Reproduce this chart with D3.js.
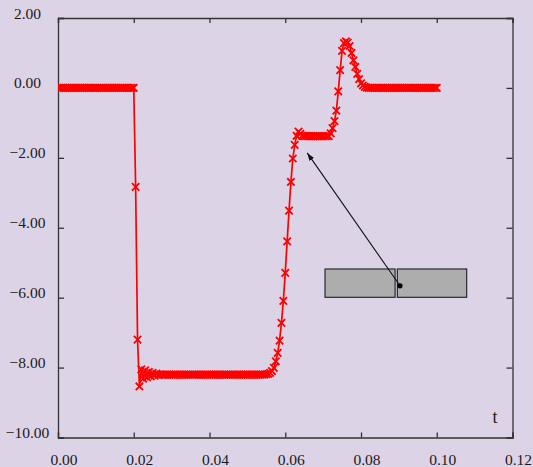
<!DOCTYPE html>
<html>
<head>
<meta charset="utf-8">
<script src="https://cdn.jsdelivr.net/npm/d3@7"></script>
<style>
  html, body { margin: 0; padding: 0; background: #ddd3e7; }
  svg { display: block; }
  text { font-family: "Liberation Serif", "DejaVu Serif", serif; font-size: 15.5px; fill: #1a1a1a; }
</style>
</head>
<body>
<svg id="chart" width="533" height="467"></svg>
<script>
// ---- data ----
const t = [
  0,0.0005,0.001,0.0015,0.002,0.0025,0.003,0.0035,0.004,0.0045,
  0.005,0.0055,0.006,0.0065,0.007,0.0075,0.008,0.0085,0.009,0.0095,
  0.01,0.0105,0.011,0.0115,0.012,0.0125,0.013,0.0135,0.014,0.0145,
  0.015,0.0155,0.016,0.0165,0.017,0.0175,0.018,0.0185,0.019,0.0195,
  0.02,0.0205,0.021,0.0215,0.022,0.0225,0.023,0.0235,0.024,0.0245,
  0.025,0.0255,0.026,0.0265,0.027,0.0275,0.028,0.0285,0.029,0.0295,
  0.03,0.0305,0.031,0.0315,0.032,0.0325,0.033,0.0335,0.034,0.0345,
  0.035,0.0355,0.036,0.0365,0.037,0.0375,0.038,0.0385,0.039,0.0395,
  0.04,0.0405,0.041,0.0415,0.042,0.0425,0.043,0.0435,0.044,0.0445,
  0.045,0.0455,0.046,0.0465,0.047,0.0475,0.048,0.0485,0.049,0.0495,
  0.05,0.0505,0.051,0.0515,0.052,0.0525,0.053,0.0535,0.054,0.0545,
  0.055,0.0555,0.056,0.0565,0.057,0.0575,0.058,0.0585,0.059,0.0595,
  0.06,0.0605,0.061,0.0615,0.062,0.0625,0.063,0.0635,0.064,0.0645,
  0.065,0.0655,0.066,0.0665,0.067,0.0675,0.068,0.0685,0.069,0.0695,
  0.07,0.0705,0.071,0.0715,0.072,0.0725,0.073,0.0735,0.074,0.0745,
  0.075,0.0755,0.076,0.0765,0.077,0.0775,0.078,0.0785,0.079,0.0795,
  0.08,0.0805,0.081,0.0815,0.082,0.0825,0.083,0.0835,0.084,0.0845,
  0.085,0.0855,0.086,0.0865,0.087,0.0875,0.088,0.0885,0.089,0.0895,
  0.09,0.0905,0.091,0.0915,0.092,0.0925,0.093,0.0935,0.094,0.0945,
  0.095,0.0955,0.096,0.0965,0.097,0.0975,0.098,0.0985,0.099,0.0995,
  0.1
];
const values = [
  0,0,0,0,0,0,0,0,0,0,
  0,0,0,0,0,0,0,0,0,0,
  0,0,0,0,0,0,0,0,0,0,
  0,0,0,0,0,0,0,0,0,0,
  0,-2.83,-7.2,-8.54,-8.05,-8.32,-8.08,-8.28,-8.12,-8.25,
  -8.15,-8.23,-8.17,-8.21,-8.19,-8.2,-8.2,-8.2,-8.2,-8.2,
  -8.2,-8.2,-8.2,-8.2,-8.2,-8.2,-8.2,-8.2,-8.2,-8.2,
  -8.2,-8.2,-8.2,-8.2,-8.2,-8.2,-8.2,-8.2,-8.2,-8.2,
  -8.2,-8.2,-8.2,-8.2,-8.2,-8.2,-8.2,-8.2,-8.2,-8.2,
  -8.2,-8.2,-8.2,-8.2,-8.2,-8.2,-8.2,-8.2,-8.2,-8.2,
  -8.2,-8.2,-8.2,-8.2,-8.2,-8.2,-8.2,-8.2,-8.2,-8.2,
  -8.19,-8.18,-8.15,-8.1,-8.01,-7.82,-7.58,-7.23,-6.72,-6.09,
  -5.29,-4.39,-3.51,-2.69,-2.02,-1.63,-1.37,-1.25,-1.31,-1.37,
  -1.38,-1.38,-1.38,-1.38,-1.38,-1.38,-1.38,-1.38,-1.38,-1.38,
  -1.38,-1.38,-1.38,-1.38,-1.3,-1.15,-0.95,-0.65,-0.1,0.51,
  1.06,1.28,1.33,1.3,1.2,1.0,0.79,0.6,0.4,0.25,
  0.13,0.07,0.03,0.01,0,0,0,0,0,0,
  0,0,0,0,0,0,0,0,0,0,
  0,0,0,0,0,0,0,0,0,0,
  0,0,0,0,0,0,0,0,0,0,
  0
];
const xTicks = [0, 0.02, 0.04, 0.06, 0.08, 0.10, 0.12];
const yTicks = [2, 0, -2, -4, -6, -8, -10];
const xLabel = "t";
// annotation (data units): two boxes, dot and arrow tip
const boxT0 = [0.0705, 0.0896];
const boxT1 = [0.0890, 0.1079];
const boxV = [-5.18, -5.99];
const dotPoint = [0.0903, -5.66];
const arrowTip = [0.0658, -1.86];

// ---- chart ----
const svg = d3.select("#chart");
const L = 58, R = 512.5, T = 18, B = 437.5;
const x = d3.scaleLinear().domain([0, 0.12]).range([L, R]);
const y = d3.scaleLinear().domain([-10, 2]).range([B, T]);
const fmt = d3.format(".2f");

svg.append("defs").append("clipPath").attr("id", "plotclip")
  .append("rect").attr("x", L).attr("y", T).attr("width", R - L).attr("height", B - T);

const axColor = "#333";
// bottom axis
const gb = svg.append("g").attr("transform", `translate(0,${B})`)
  .call(d3.axisBottom(x).tickValues(xTicks).tickSize(-5).tickFormat(fmt));
gb.selectAll("text").attr("dy", 0).attr("y", 27.5).attr("dx", 5.5);
// top axis
const gt = svg.append("g").attr("transform", `translate(0,${T})`)
  .call(d3.axisTop(x).tickValues(xTicks).tickSize(-5).tickFormat(""));
// left axis
const gl = svg.append("g").attr("transform", `translate(${L},0)`)
  .call(d3.axisLeft(y).tickValues(yTicks).tickSize(-6).tickFormat(fmt));
gl.selectAll("text").attr("text-anchor", "middle").attr("x", 27.5 - L).attr("dy", 0);
// right axis
const gr = svg.append("g").attr("transform", `translate(${R},0)`)
  .call(d3.axisRight(y).tickValues(yTicks).tickSize(-6).tickFormat(""));

[gb, gt, gl, gr].forEach(g => {
  g.attr("font-family", null).attr("font-size", null);
  g.select(".domain").attr("stroke", axColor).attr("stroke-width", 1.3);
  g.selectAll(".tick line").attr("stroke", axColor).attr("stroke-width", 1.3);
  g.selectAll("text").attr("fill", "#1a1a1a");
});

svg.append("text").attr("x", 495).attr("y", 423).attr("text-anchor", "middle")
  .style("font-size", "18px").text(xLabel);

// series
const data = t.map((d, i) => ({ t: d, v: values[i] }));
const plot = svg.append("g").attr("clip-path", "url(#plotclip)");
plot.append("path").datum(data)
  .attr("fill", "none").attr("stroke", "#ff0000").attr("stroke-width", 1.7)
  .attr("d", d3.line().x(d => x(d.t)).y(d => y(d.v)));
const s = 3.7;
plot.selectAll("path.mk").data(data).join("path").attr("class", "mk")
  .attr("d", d => {
    const cx = x(d.t), cy = y(d.v);
    return `M${cx - s},${cy - s}L${cx + s},${cy + s}M${cx - s},${cy + s}L${cx + s},${cy - s}`;
  })
  .attr("stroke", "#ff0000").attr("stroke-width", 1.8).attr("fill", "none");

// annotation boxes
boxT0.forEach((b, i) => {
  svg.append("rect")
    .attr("x", x(b)).attr("y", y(boxV[0]))
    .attr("width", x(boxT1[i]) - x(b)).attr("height", y(boxV[1]) - y(boxV[0]))
    .attr("fill", "#adadad").attr("stroke", "#2a2a2a").attr("stroke-width", 1.2);
});
// arrow
svg.select("defs").append("marker").attr("id", "arrowhead")
  .attr("viewBox", "0 0 10 10").attr("refX", 10).attr("refY", 5)
  .attr("markerWidth", 8).attr("markerHeight", 8).attr("markerUnits", "userSpaceOnUse")
  .attr("orient", "auto")
  .append("path").attr("d", "M0,1.5L10,5L0,8.5Z").attr("fill", "#111");
svg.append("line")
  .attr("x1", x(dotPoint[0])).attr("y1", y(dotPoint[1]))
  .attr("x2", x(arrowTip[0])).attr("y2", y(arrowTip[1]))
  .attr("stroke", "#111").attr("stroke-width", 1.1)
  .attr("marker-end", "url(#arrowhead)");
svg.append("circle").attr("cx", x(dotPoint[0])).attr("cy", y(dotPoint[1]))
  .attr("r", 2.6).attr("fill", "#000");
</script>
</body>
</html>
